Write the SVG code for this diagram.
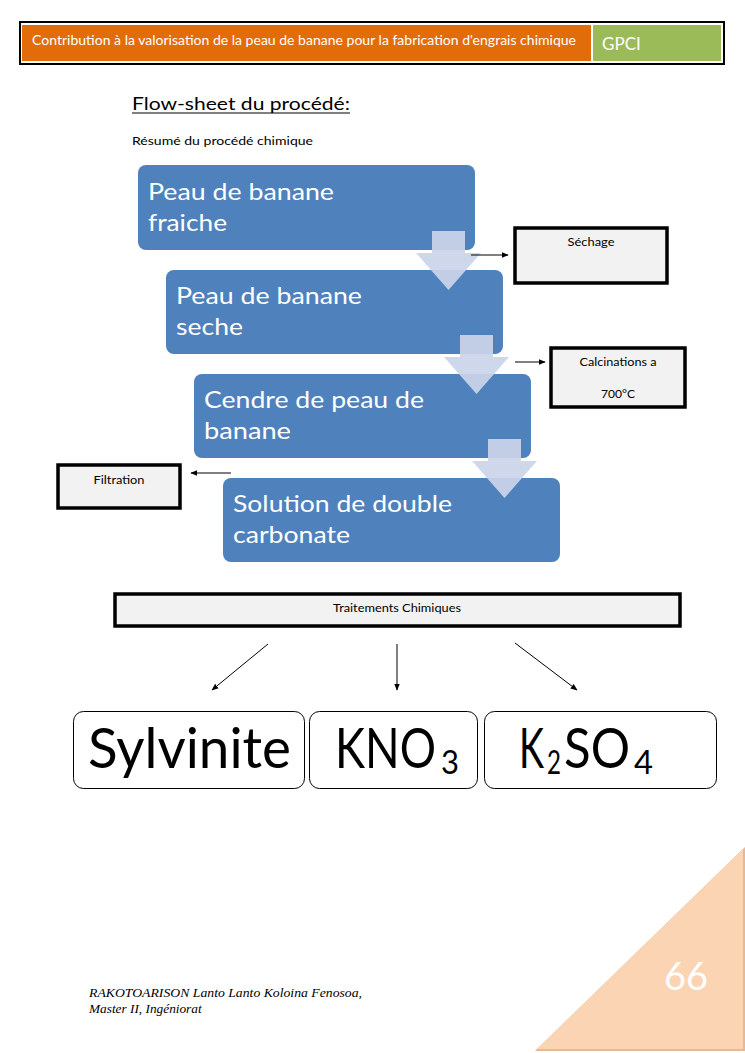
<svg xmlns="http://www.w3.org/2000/svg" width="745" height="1053" viewBox="0 0 745 1053">
<defs>
<style>
.cal{font-family:Lato,"Open Sans","Noto Sans",sans-serif}
.blue{fill:#4F81BD}
.btxt{fill:#fff;font-size:24px}
.chev{fill:#CBD5E8;opacity:0.92}
.sbox{fill:#F2F2F2;stroke:#000;stroke-width:3.5}
.stxt{font-size:11.5px;fill:#000;text-anchor:middle}
.conn{stroke:#000;stroke-width:1;fill:none}
.rbox{fill:#fff;stroke:#000;stroke-width:1}
.big{font-size:56px;fill:#000}
.sub{font-size:32px}
</style>
<marker id="ah" viewBox="0 0 10 10" refX="9" refY="5" markerWidth="7" markerHeight="7" orient="auto" markerUnits="userSpaceOnUse">
<path d="M0,1 L10,5 L0,9 Z" fill="#000"/>
</marker>
</defs>
<rect width="745" height="1053" fill="#fff"/>

<g id="header">
<rect x="20" y="22" width="704" height="42" fill="#fff" stroke="#000" stroke-width="2"/>
<rect x="22" y="25" width="569" height="36" fill="#E36C0A"/>
<rect x="593" y="25" width="128" height="36" fill="#9BBB59"/>
<text class="cal" x="32" y="45" font-size="12.5" fill="#fff" textLength="544" lengthAdjust="spacingAndGlyphs">Contribution à la valorisation de la peau de banane pour la fabrication d'engrais chimique</text>
<text class="cal" x="602" y="50" font-size="17" fill="#fff">GPCI</text>
</g>

<g id="title">
<text class="cal" x="132" y="110" font-size="18" fill="#000" textLength="218" lengthAdjust="spacingAndGlyphs">Flow-sheet du procédé:</text>
<line x1="132" y1="113" x2="350" y2="113" stroke="#000" stroke-width="1"/>
<text class="cal" x="132" y="145" font-size="11" fill="#000" textLength="181" lengthAdjust="spacingAndGlyphs">Résumé du procédé chimique</text>
</g>

<g id="n1">
<rect class="blue" x="138" y="165" width="337" height="85" rx="8"/>
<text class="cal btxt" x="148" y="200" textLength="186" lengthAdjust="spacingAndGlyphs">Peau de banane</text>
<text class="cal btxt" x="148" y="231" textLength="79" lengthAdjust="spacingAndGlyphs">fraiche</text>
</g>
<g id="n2">
<rect class="blue" x="166" y="270" width="337" height="84" rx="8"/>
<text class="cal btxt" x="176" y="304" textLength="186" lengthAdjust="spacingAndGlyphs">Peau de banane</text>
<text class="cal btxt" x="176" y="335" textLength="67" lengthAdjust="spacingAndGlyphs">seche</text>
</g>
<g id="n3">
<rect class="blue" x="194" y="374" width="337" height="84" rx="8"/>
<text class="cal btxt" x="204" y="408" textLength="220" lengthAdjust="spacingAndGlyphs">Cendre de peau de</text>
<text class="cal btxt" x="204" y="439" textLength="87" lengthAdjust="spacingAndGlyphs">banane</text>
</g>
<g id="n4">
<rect class="blue" x="223" y="478" width="337" height="84" rx="8"/>
<text class="cal btxt" x="233" y="512" textLength="219" lengthAdjust="spacingAndGlyphs">Solution de double</text>
<text class="cal btxt" x="233" y="543" textLength="117" lengthAdjust="spacingAndGlyphs">carbonate</text>
</g>

<g id="chevrons">
<path class="chev" d="M432,231 H465 V253 H481 L448.5,290 L416,253 H432 Z"/>
<path class="chev" d="M460,335 H493 V357 H509 L476.5,394 L444,357 H460 Z"/>
<path class="chev" d="M488,439 H521 V461 H537 L504.5,498 L472,461 H488 Z"/>
</g>

<g id="sechage">
<rect class="sbox" x="515" y="228" width="152" height="55"/>
<text class="cal stxt" x="591" y="246" textLength="47" lengthAdjust="spacingAndGlyphs">Séchage</text>
</g>
<g id="calcination">
<rect class="sbox" x="551" y="348" width="134" height="59"/>
<text class="cal stxt" x="618" y="366" textLength="77" lengthAdjust="spacingAndGlyphs">Calcinations a</text>
<text class="cal stxt" x="618" y="398" textLength="34" lengthAdjust="spacingAndGlyphs">700°C</text>
</g>
<g id="filtration">
<rect class="sbox" x="58" y="465" width="122" height="43"/>
<text class="cal stxt" x="119" y="484" textLength="51" lengthAdjust="spacingAndGlyphs">Filtration</text>
</g>
<g id="traitements">
<rect class="sbox" x="115" y="594" width="565" height="32"/>
<text class="cal stxt" x="397" y="612" textLength="128" lengthAdjust="spacingAndGlyphs">Traitements Chimiques</text>
</g>

<g id="connectors">
<line class="conn" x1="471" y1="255" x2="508" y2="255" marker-end="url(#ah)"/>
<line class="conn" x1="515" y1="362" x2="545" y2="362" marker-end="url(#ah)"/>
<line class="conn" x1="231" y1="473" x2="191" y2="473" marker-end="url(#ah)"/>
<line class="conn" x1="268" y1="644" x2="212" y2="690" marker-end="url(#ah)"/>
<line class="conn" x1="397" y1="644" x2="397" y2="690" marker-end="url(#ah)"/>
<line class="conn" x1="515" y1="643" x2="577" y2="690" marker-end="url(#ah)"/>
</g>

<g id="sylvinite">
<rect class="rbox" x="73.5" y="711.5" width="231" height="77" rx="10"/>
<text class="cal big" x="88" y="768" textLength="203" lengthAdjust="spacingAndGlyphs">Sylvinite</text>
</g>
<g id="kno3">
<rect class="rbox" x="309.5" y="711.5" width="168" height="77" rx="10"/>
<text class="cal big" y="768"><tspan x="335" textLength="101" lengthAdjust="spacingAndGlyphs">KNO</tspan><tspan class="sub" x="441" y="774" textLength="18" lengthAdjust="spacingAndGlyphs">3</tspan></text>
</g>
<g id="k2so4">
<rect class="rbox" x="484.5" y="711.5" width="232" height="77" rx="10"/>
<text class="cal big" y="768"><tspan x="519" textLength="25" lengthAdjust="spacingAndGlyphs">K</tspan><tspan class="sub" x="547" y="774" textLength="14" lengthAdjust="spacingAndGlyphs">2</tspan><tspan x="564" y="768" textLength="66" lengthAdjust="spacingAndGlyphs">SO</tspan><tspan class="sub" x="634" y="774" textLength="19" lengthAdjust="spacingAndGlyphs">4</tspan></text>
</g>

<g id="page-corner">
<polygon points="535,1051 745,847 745,1051" fill="#E3B998"/>
<polygon points="537,1049 743,849 743,1049" fill="#FBD4B4"/>
<text class="cal" x="686" y="990" font-size="38" fill="#fff" text-anchor="middle">66</text>
</g>

<g id="footer">
<text x="89" y="997" font-family="'Liberation Serif',serif" font-style="italic" font-size="13.3" fill="#000" textLength="273" lengthAdjust="spacingAndGlyphs">RAKOTOARISON Lanto Lanto Koloina Fenosoa,</text>
<text x="89" y="1013" font-family="'Liberation Serif',serif" font-style="italic" font-size="13.3" fill="#000">Master II, Ingéniorat</text>
</g>
</svg>
